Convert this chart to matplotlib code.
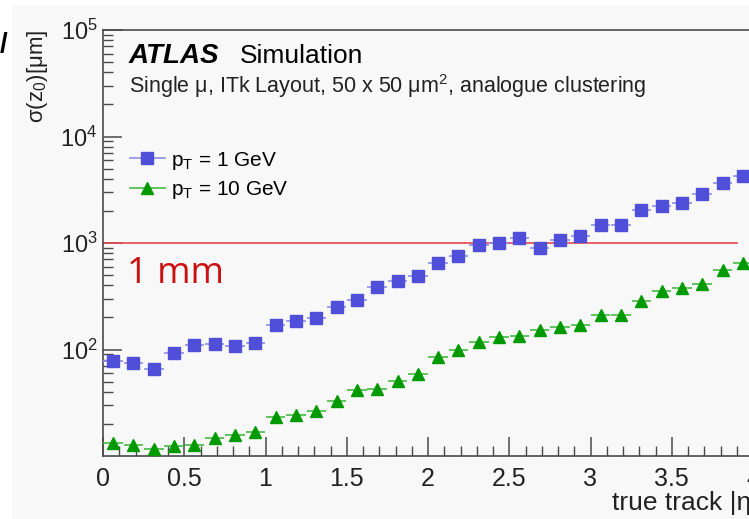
import numpy as np
import matplotlib
matplotlib.use("Agg")
import matplotlib.pyplot as plt
from matplotlib.lines import Line2D
from matplotlib.patches import Rectangle
from matplotlib.ticker import FixedLocator, LogLocator, MultipleLocator, NullFormatter

plt.rcParams['font.family'] = ['Liberation Sans', 'DejaVu Sans']
plt.rcParams['mathtext.default'] = 'regular'

# |eta| bins of width 0.125 from 0 to 4
eta_edges = np.arange(0, 4.001, 0.125)
eta = 0.5 * (eta_edges[:-1] + eta_edges[1:])

# sigma(z0) in um
sigma_1gev = [78, 75, 65, 93, 111, 112, 109, 114,
              169, 185, 197, 250, 292, 387, 443, 494,
              645, 755, 952, 1000, 1121, 904, 1067, 1155,
              1485, 1485, 2024, 2224, 2387, 2858, 3674, 4220]
sigma_10gev = [13.3, 12.6, 11.7, 12.4, 12.8, 14.6, 15.8, 16.9,
               23.0, 24.3, 26.2, 33.0, 41.9, 43.0, 50.9, 58.8,
               85.4, 98.6, 117, 130, 135, 154, 164, 170,
               211, 211, 286, 355, 381, 413, 555, 645]

one_mm = 1000
line_end = 3.9

W, H = 749, 519
fig = plt.figure(figsize=(W / 100, H / 100), dpi=100, facecolor='white')
fig.patches.append(Rectangle((12 / W, 0), 1, 1 - 5 / H, transform=fig.transFigure,
                             facecolor='#f8f8f8', edgecolor='none', zorder=-10))

ax = fig.add_axes([103 / W, 1 - 456 / H, 650 / W, 426 / H])
ax.set_facecolor('#f8f8f8')
ax.set_yscale('log')
ax.set_xlim(0, 4)
ax.set_ylim(10, 1e5)

blue, blue_err = '#4f4fd9', '#8f8fe8'
green, green_err = '#009a00', '#44bb44'

ax.errorbar(eta, sigma_1gev, xerr=0.06, fmt='s', ms=8.5, color=blue,
            ecolor=blue_err, elinewidth=1.2, zorder=3)
ax.errorbar(eta, sigma_10gev, xerr=0.06, fmt='^', ms=8, color=green,
            ecolor=green_err, elinewidth=1.2, zorder=3)

ax.plot([0, line_end], [one_mm, one_mm], color='#e3474f', lw=1.2, zorder=2)
ax.text(0.15, 510, '1 mm', color='#cc1010', fontsize=26, va='center',
        family=['Open Sans', 'DejaVu Sans'])

for side in ['left', 'bottom', 'top', 'right']:
    ax.spines[side].set_color('#4a4a4a')
    ax.spines[side].set_linewidth(1.2)

ax.xaxis.set_major_locator(MultipleLocator(0.5))
ax.xaxis.set_minor_locator(MultipleLocator(0.1))
ax.xaxis.set_major_formatter(plt.FuncFormatter(lambda v, p: f'{v:g}'))
ax.yaxis.set_major_locator(FixedLocator([1e2, 1e3, 1e4, 1e5]))
ax.yaxis.set_minor_locator(LogLocator(base=10, subs=np.arange(2, 10), numticks=20))
ax.yaxis.set_minor_formatter(NullFormatter())
ax.tick_params(which='both', direction='in', colors='#4a4a4a', labelcolor='#222222',
               labelsize=17, top=False, right=False)
ax.tick_params(axis='x', labelsize=18, pad=8)
ax.tick_params(axis='y', pad=4)
ax.tick_params(which='major', length=14, width=1.1)
ax.tick_params(which='minor', length=7, width=1.0)

ax.set_xlabel('true track |η|', fontsize=19, color='#222222')
ax.xaxis.label.set_ha('left')
ax.xaxis.label.set_va('baseline')
ax.xaxis.set_label_coords((612 - 103) / 650, (456 - 510) / 426)
ax.set_ylabel('σ(z$_0$)[μm]', fontsize=16, color='#222222', loc='top', labelpad=7)

ax.text(0.04, 0.923, 'ATLAS', transform=ax.transAxes, fontsize=20,
        fontweight='bold', style='italic', va='baseline')
ax.text(0.21, 0.923, 'Simulation', transform=ax.transAxes, fontsize=19, va='baseline')
ax.text(0.04, 0.852, 'Single μ, ITk Layout, 50 x 50 μm$^2$, analogue clustering',
        transform=ax.transAxes, fontsize=15.5, va='baseline', color='#222222')

handles = [Line2D([], [], color=blue_err, marker='s', ms=8.5, mfc=blue, mec=blue, lw=1.2),
           Line2D([], [], color=green_err, marker='^', ms=8, mfc=green, mec=green, lw=1.2)]
ax.legend(handles, ['p$_T$ = 1 GeV', 'p$_T$ = 10 GeV'], loc='upper left',
          bbox_to_anchor=(0.013, 0.763), frameon=False, fontsize=15,
          handlelength=1.65, handletextpad=0.3, labelspacing=0.35)

fig.text(0.0, 1 - 45 / H, '/', fontsize=20, fontweight='bold', color='black',
         va='center', ha='left')

fig.savefig('out.png', dpi=100, facecolor='white')
